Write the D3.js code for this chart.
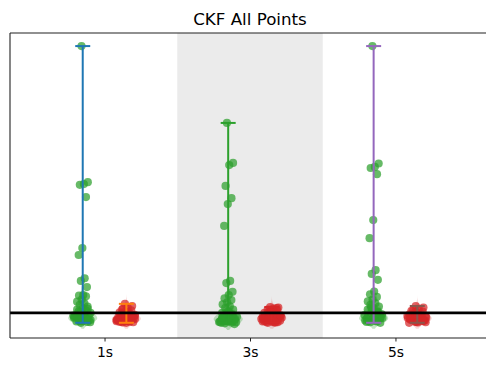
<!DOCTYPE html>
<html>
<head>
<meta charset="utf-8">
<script src="https://cdn.jsdelivr.net/npm/d3@7"></script>
<style>
  html, body { margin: 0; padding: 0; background: #fff; }
  svg { display: block; font-family: "DejaVu Sans", sans-serif; }
</style>
</head>
<body>
<svg id="chart" width="486" height="365"></svg>
<script>
// Categories (time horizons) and the two point groups drawn for each one
const categories = ["1s", "3s", "5s"];

const green1s = [100, 49, 48.3, 48, 43.4, 24.3, 21.7, 13, 12, 9.7, 6.7, 6.5, 6.2, 5, 4.2, 3.6, 3, 2.4,
  1.8, 1.2, 0.8, 0.3, 0, -0.4, -0.8, -1.2, -1.5, -1.8, -2.1, -2.4, -2.7, -3, -3.2, -3.4, -3.7,
  -1, -2, 0.5, 1.5, -2.5, -1.6, -2.2, -2.9, -3.5, -0.6, -1.3, -2.6, -3.1];
const green3s = [71.2, 56.2, 55.4, 47.6, 43, 40.8, 32.6, 12, 11.2, 7.9, 6.7, 5.5, 4.8, 4, 3.2, 2.5,
  1.8, 1.2, 0.6, 0, -0.5, -1, -1.4, -1.8, -2.2, -2.6, -3, -3.3, -3.6, -3.9, -4.2, -2, -2.8, -1.2,
  -0.2, -3.4, -2.4, -1.6, -2.3, -3.1, -3.7, -0.8, -2.7, -3.5, 0.3, -1.9];
const green5s = [100, 56, 54.7, 54.3, 52, 34.8, 28, 16, 14.6, 12.4, 8, 7, 6, 5, 4.3, 3.6, 3, 2.4,
  1.8, 1.2, 0.6, 0, -0.5, -1, -1.5, -2, -2.4, -2.8, -3.2, -3.5, -3.7, -1.2, -2.2, 0.3, 1.5, -0.8,
  -2.7, -3, -1.7, -2.5, -3.4, -0.3, 2.1, -1.9, -2.9];

const red1s = [3.4, 2.6, 2, 1.5, 1, 0.6, 0.2, -0.2, -0.6, -1, -1.4, -1.8, -2.1, -2.4, -2.7, -3,
  -3.2, -3.5, -3.7, -1.6, -2.2, -2.9, -0.8, 0.4, 1.2, -1.2, -2, -2.6, -3.3, -3.6, -2.3, -2.8,
  -3.4, -1.9, -2.5, -3.1, -1.1, -0.4, -2.0, -3.0, -2.7, -1.5];
const red3s = [2.2, 2, 1.6, 1.2, 0.8, 0.4, 0, -0.4, -0.8, -1.2, -1.6, -2, -2.4, -2.8, -3.2, -3.6,
  -3.7, -1, -2.2, -3, -0.2, 1, -1.8, -2.6, -3.4, -3.5, 0.6, -1.4, -2.1, -2.5, -2.9, -3.3, -1.7,
  -0.6, -1.1, -2.3, -3.1, -2.7, 1.8, 0.2, -1.9, -3.6, -2.4, -0.9];
const red5s = [2.6, 2, 1.5, 1, 0.5, 0, -0.5, -1, -1.4, -1.8, -2.2, -2.6, -3, -3.3, -3.7, -1.2, -2,
  -2.8, -0.2, 0.8, -1.6, -2.4, -3.5, -3.1, -2.3, -2.9, -3.4, -1.9, -2.5, -0.7, -1.3, -3.6, -2.1,
  -2.7, 0.3, -1.1];

const greenSeries = [green1s, green3s, green5s];
const redSeries = [red1s, red3s, red5s];

// Reference level drawn as the thick horizontal line
const referenceLevel = 0;

// Colours of the min–max range bars, in drawing order (green 1s, red 1s, green 3s, ...)
const rangeColors = ["#1f77b4", "#ff7f0e", "#2ca02c", "#d62728", "#9467bd", "#8c564b"];
const GREEN = "#2ca02c", RED = "#d62728";

// ---- layout ----
const svg = d3.select("#chart");
const plot = { left: 10, right: 490, top: 33, bottom: 338 };

const x = d3.scaleLinear().domain([-0.65, 2.65]).range([plot.left, plot.right]);
const y = d3.scaleLinear().domain([-9.4, 104.9]).range([plot.bottom, plot.top]);

const groupOffset = 0.15;   // green to the left of a category, red to the right
const jitterGreen = 0.068;
const jitterRed = 0.072;
const jitter = i => (((i * 0.6180339887 + 0.37) % 1) * 2 - 1);

const clipId = "plotclip";
svg.append("defs").append("clipPath").attr("id", clipId)
  .append("rect").attr("x", plot.left).attr("y", plot.top)
  .attr("width", plot.right - plot.left).attr("height", plot.bottom - plot.top);

const g = svg.append("g").attr("clip-path", `url(#${clipId})`);

// Shaded band behind the middle category
g.append("rect")
  .attr("x", x(0.5)).attr("y", plot.top)
  .attr("width", x(1.5) - x(0.5)).attr("height", plot.bottom - plot.top)
  .attr("fill", "#ebebeb");

// Gaussian kernel density estimate
function densityAt(values, bw) {
  return t => {
    let s = 0;
    for (const v of values) { const z = (t - v) / bw; s += Math.exp(-0.5 * z * z); }
    return s / (values.length * bw * Math.sqrt(2 * Math.PI));
  };
}

// Faint violin of the dense part of each group
function drawViolin(values, center, color, opacity) {
  const f = densityAt(values, 1.4);
  const lo = d3.min(values) - 2.2, hi = 10;
  const grid = d3.range(lo, hi + 0.001, 0.2).map(t => [t, f(t)]);
  const maxD = d3.max(grid, d => d[1]);
  const halfW = 0.1;
  const area = d3.area()
    .curve(d3.curveBasis)
    .y(d => y(d[0]))
    .x0(d => x(center - halfW * d[1] / maxD))
    .x1(d => x(center + halfW * d[1] / maxD));
  g.append("path").attr("d", area(grid)).attr("fill", color).attr("fill-opacity", opacity);
}
categories.forEach((c, i) => {
  drawViolin(greenSeries[i], i - groupOffset, GREEN, 0.28);
  drawViolin(redSeries[i], i + groupOffset, RED, 0.18);
});

// Points, spread sideways in proportion to the local density
function drawPoints(values, center, color, jw) {
  const f = densityAt(values, 1.3);
  const maxD = d3.max(d3.range(-6, 10, 0.2), f);
  g.append("g").selectAll("circle").data(values).join("circle")
    .attr("cx", (d, k) => x(center + jw * (0.45 + 0.55 * f(d) / maxD) * jitter(k)))
    .attr("cy", d => y(d))
    .attr("r", 4.1)
    .attr("fill", color)
    .attr("fill-opacity", 0.72);
}
categories.forEach((c, i) => {
  drawPoints(greenSeries[i], i - groupOffset, GREEN, jitterGreen);
  drawPoints(redSeries[i], i + groupOffset, RED, jitterRed);
});

// Min–max range bars with caps
const capHalf = 7.5;
categories.forEach((c, i) => {
  [[greenSeries[i], i - groupOffset, rangeColors[2 * i]],
   [redSeries[i], i + groupOffset, rangeColors[2 * i + 1]]].forEach(([vals, center, color]) => {
    const [mn, mx] = d3.extent(vals);
    const cx = x(center);
    const bar = g.append("g").attr("stroke", color).attr("stroke-width", 2).attr("fill", "none");
    bar.append("line").attr("x1", cx).attr("x2", cx).attr("y1", y(mn)).attr("y2", y(mx));
    bar.append("line").attr("x1", cx - capHalf).attr("x2", cx + capHalf).attr("y1", y(mn)).attr("y2", y(mn));
    bar.append("line").attr("x1", cx - capHalf).attr("x2", cx + capHalf).attr("y1", y(mx)).attr("y2", y(mx));
  });
});

// Reference line
g.append("line")
  .attr("x1", plot.left).attr("x2", plot.right)
  .attr("y1", y(referenceLevel)).attr("y2", y(referenceLevel))
  .attr("stroke", "#000").attr("stroke-width", 2.6);

// Spines
const spine = svg.append("g").attr("stroke", "#222").attr("stroke-width", 1.1).attr("fill", "none");
spine.append("line").attr("x1", plot.left).attr("x2", plot.left).attr("y1", plot.top).attr("y2", plot.bottom);
spine.append("line").attr("x1", plot.left).attr("x2", plot.right).attr("y1", plot.top).attr("y2", plot.top);
spine.append("line").attr("x1", plot.left).attr("x2", plot.right).attr("y1", plot.bottom).attr("y2", plot.bottom);
spine.append("line").attr("x1", plot.right).attr("x2", plot.right).attr("y1", plot.top).attr("y2", plot.bottom);

// Category axis
const xAxis = d3.axisBottom(x)
  .tickValues(categories.map((c, i) => i))
  .tickFormat(i => categories[i])
  .tickSize(3.5)
  .tickPadding(5.5);
const ax = svg.append("g").attr("transform", `translate(0,${plot.bottom})`).call(xAxis);
ax.select(".domain").remove();
ax.selectAll(".tick line").attr("stroke", "#222").attr("stroke-width", 1);
ax.selectAll(".tick text")
  .attr("font-family", "DejaVu Sans, sans-serif")
  .attr("font-size", 13.9)
  .attr("fill", "#000");

// Title
svg.append("text")
  .attr("x", (plot.left + plot.right) / 2)
  .attr("y", 25)
  .attr("text-anchor", "middle")
  .attr("font-size", 16.7)
  .attr("fill", "#000")
  .text("CKF All Points");
</script>
</body>
</html>
